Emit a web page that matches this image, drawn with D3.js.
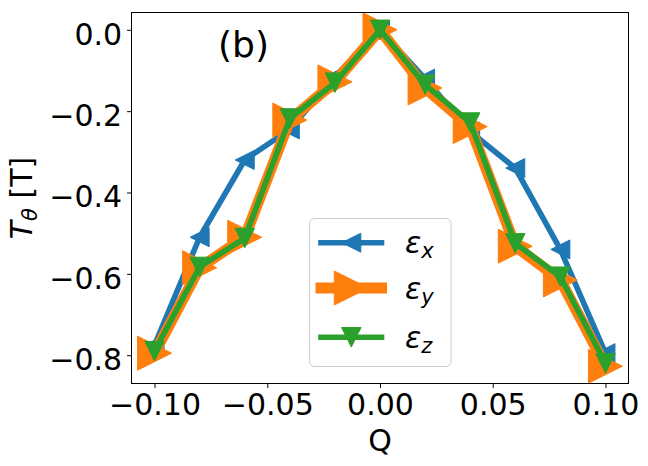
<!DOCTYPE html>
<html>
<head>
<meta charset="utf-8">
<script src="https://cdn.jsdelivr.net/npm/d3@7"></script>
<style>
  html, body { margin: 0; padding: 0; background: #fff; }
  svg { display: block; font-family: "DejaVu Sans", sans-serif; }
</style>
</head>
<body>
<svg id="chart" width="648" height="466"></svg>
<script>
// ---- data ----
const Q = [-0.10, -0.08, -0.06, -0.04, -0.02, 0.00, 0.02, 0.04, 0.06, 0.08, 0.10];
const epsX = [-0.775, -0.51, -0.32, -0.245, -0.115, 0.0, -0.12, -0.25, -0.34, -0.54, -0.795];
const epsY = [-0.795, -0.585, -0.51, -0.222, -0.128, 0.0, -0.143, -0.238, -0.532, -0.615, -0.827];
const epsZ = [-0.79, -0.583, -0.512, -0.218, -0.13, 0.0, -0.135, -0.228, -0.525, -0.607, -0.82];
const xTicks = [-0.10, -0.05, 0.00, 0.05, 0.10];
const yTicks = [-0.8, -0.6, -0.4, -0.2, 0.0];
const seriesNames = ["x", "y", "z"];

const svg = d3.select("#chart");
const L = 132, R = 628, T = 13, B = 383;

const xScale = d3.scaleLinear().domain([-0.11, 0.11]).range([L, R]);
const all = epsX.concat(epsY, epsZ);
const ymin = d3.min(all), ymax = d3.max(all);
const pad = (ymax - ymin) * 0.05;
const yScale = d3.scaleLinear().domain([ymin - pad, ymax + pad]).range([B, T]);

const fmt = (v, d) => (v < 0 ? "\u2212" : "") + Math.abs(v).toFixed(d);

// clip
svg.append("defs").append("clipPath").attr("id", "clip")
  .append("rect").attr("x", L).attr("y", T).attr("width", R - L).attr("height", B - T);

// axes
const xAxis = d3.axisBottom(xScale).tickValues(xTicks).tickSize(4.9).tickPadding(4.9)
  .tickFormat(d => fmt(d, 2));
const yAxis = d3.axisLeft(yScale).tickValues(yTicks).tickSize(4.9).tickPadding(4.9)
  .tickFormat(d => fmt(d, 1));

const gx = svg.append("g").attr("transform", `translate(0,${B})`).call(xAxis);
const gy = svg.append("g").attr("transform", `translate(${L},0)`).call(yAxis);
[gx, gy].forEach(g => {
  g.select(".domain").remove();
  g.selectAll("line").attr("stroke", "#000").attr("stroke-width", 1);
  g.selectAll("text").attr("fill", "#000").style("font-size", "30px")
    .style("font-family", "DejaVu Sans");
});
gx.selectAll("text").attr("dy", null).attr("y", 9.8).attr("dominant-baseline", "hanging");
gy.selectAll("text").attr("dy", "0.48em");

// series
const shapes = {
  left: s => `M${-s/2},0 L${s/2},${-s/2} L${s/2},${s/2} Z`,
  right: s => `M${s/2},0 L${-s/2},${-s/2} L${-s/2},${s/2} Z`,
  down: s => `M0,${s/2} L${-s/2},${-s/2} L${s/2},${-s/2} Z`
};
const series = [
  { vals: epsX, color: "#1f77b4", lw: 5.6, ms: 19, shape: "left" },
  { vals: epsY, color: "#ff7f0e", lw: 11, ms: 34, shape: "right" },
  { vals: epsZ, color: "#2ca02c", lw: 5.6, ms: 19.5, shape: "down" }
];

const plot = svg.append("g").attr("clip-path", "url(#clip)");
const line = d3.line().x(d => xScale(d[0])).y(d => yScale(d[1]));
series.forEach(s => {
  const pts = Q.map((q, i) => [q, s.vals[i]]);
  plot.append("path").datum(pts).attr("d", line)
    .attr("fill", "none").attr("stroke", s.color).attr("stroke-width", s.lw)
    .attr("stroke-linejoin", "round").attr("stroke-linecap", "square");
  plot.selectAll(null).data(pts).enter().append("path")
    .attr("transform", d => `translate(${xScale(d[0])},${yScale(d[1])})`)
    .attr("d", shapes[s.shape](s.ms))
    .attr("fill", s.color).attr("stroke", s.color).attr("stroke-width", 1);
});

// frame
svg.append("rect").attr("x", L - 0.5).attr("y", T - 0.5).attr("width", R - L + 1).attr("height", B - T + 1)
  .attr("fill", "none").attr("stroke", "#000").attr("stroke-width", 1);

// panel label
svg.append("text").attr("x", 218).attr("y", 57).style("font-size", "36px").text("(b)");

// axis labels
svg.append("text").attr("x", (L + R) / 2).attr("y", 451).attr("text-anchor", "middle")
  .style("font-size", "30px").text("Q");
const yl = svg.append("text").attr("transform", `translate(32,${(T + B) / 2}) rotate(-90)`)
  .attr("text-anchor", "middle").style("font-size", "30px");
yl.append("tspan").style("font-style", "italic").text("T");
yl.append("tspan").style("font-style", "italic").style("font-size", "21px").attr("dy", 5).text("θ");
yl.append("tspan").attr("dy", -5).text(" [T]");

// legend
const lg = svg.append("g");
lg.append("rect").attr("x", 309.5).attr("y", 218.5).attr("width", 141.5).attr("height", 148)
  .attr("rx", 5).attr("fill", "#fff").attr("fill-opacity", 0.8)
  .attr("stroke", "#cccccc").attr("stroke-width", 1);
const rowY = [242.7, 288, 337.3];
series.forEach((s, i) => {
  const y0 = rowY[i];
  lg.append("line").attr("x1", 321).attr("x2", 381.5).attr("y1", y0).attr("y2", y0)
    .attr("stroke", s.color).attr("stroke-width", s.lw).attr("stroke-linecap", "square");
  lg.append("path").attr("transform", `translate(351.3,${y0})`)
    .attr("d", shapes[s.shape](s.ms)).attr("fill", s.color).attr("stroke", s.color).attr("stroke-width", 1);
  const t = lg.append("text").attr("x", 405).attr("y", y0 + 10.5).style("font-size", "30px");
  t.append("tspan").style("font-style", "italic").text("ε");
  t.append("tspan").style("font-style", "italic").style("font-size", "21px").attr("dy", 5).text(seriesNames[i]);
});
</script>
</body>
</html>
